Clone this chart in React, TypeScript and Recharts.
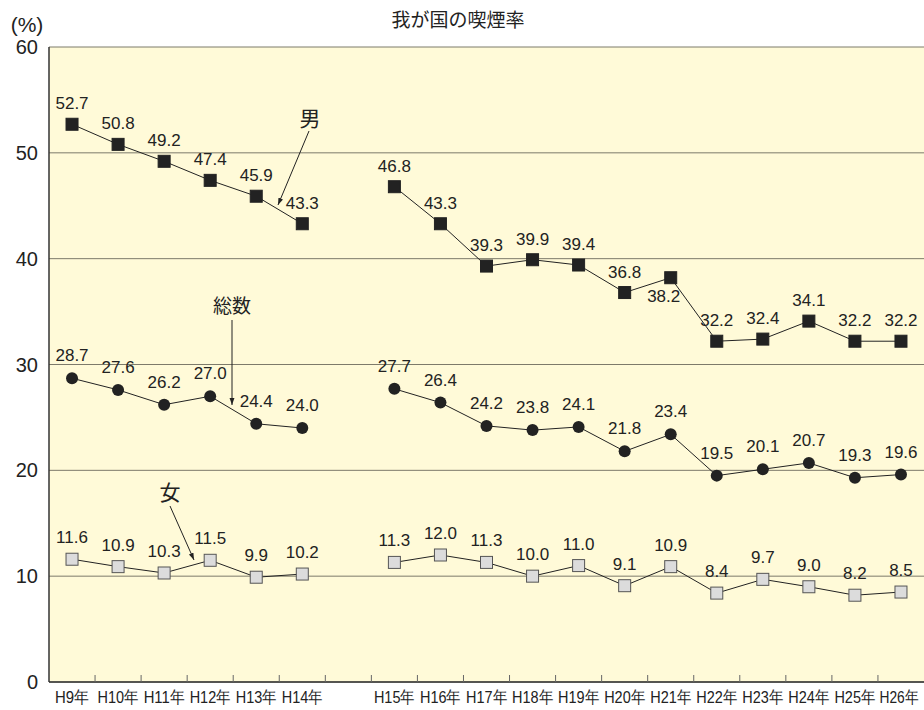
import { LineChart, Line, XAxis, YAxis, CartesianGrid, LabelList } from "recharts";

// ================= DATA =================
const categories = [
  "H9年", "H10年", "H11年", "H12年", "H13年", "H14年", "",
  "H15年", "H16年", "H17年", "H18年", "H19年", "H20年", "H21年",
  "H22年", "H23年", "H24年", "H25年", "H26年",
];
const male = [52.7, 50.8, 49.2, 47.4, 45.9, 43.3, null, 46.8, 43.3, 39.3, 39.9, 39.4, 36.8, 38.2, 32.2, 32.4, 34.1, 32.2, 32.2];
const total = [28.7, 27.6, 26.2, 27.0, 24.4, 24.0, null, 27.7, 26.4, 24.2, 23.8, 24.1, 21.8, 23.4, 19.5, 20.1, 20.7, 19.3, 19.6];
const female = [11.6, 10.9, 10.3, 11.5, 9.9, 10.2, null, 11.3, 12.0, 11.3, 10.0, 11.0, 9.1, 10.9, 8.4, 9.7, 9.0, 8.2, 8.5];
const yTicks = [0, 10, 20, 30, 40, 50, 60];

const data = categories.map((name, i) => ({
  name,
  x: i + 0.5,
  male: male[i],
  total: total[i],
  female: female[i],
}));

// label centers + category boundaries
const xTicks = [
  ...categories.map((c, i) => (c ? i + 0.5 : null)).filter((v) => v !== null),
  ...categories.slice(1).map((_, i) => i + 1),
];

const FONT = "'Liberation Sans', Arial, sans-serif";
const JP = "'Noto Sans CJK JP', sans-serif";
const INK = "#222";

// ================= TICKS =================
function XTick({ x, y, payload }: any) {
  const v = payload.value;
  if (Number.isInteger(v)) {
    return <line x1={x} x2={x} y1={y} y2={y - 7} stroke="#666" strokeWidth={1} />;
  }
  const idx = Math.floor(v);
  const label = categories[idx];
  const last = idx === categories.length - 1;
  // condensed like the original print font
  return (
    <text
      x={last ? x - 2 : x}
      y={y + 21}
      textAnchor="middle"
      fontSize={17}
      fill={INK}
      fontFamily={FONT}
      textLength={label.length === 3 ? 34 : last ? 39 : 41}
      lengthAdjust="spacingAndGlyphs"
    >
      {label}
    </text>
  );
}

// ================= DOTS =================
const squareDot = (fill: string, stroke: string, size: number) => (p: any) => {
  if (p.cy == null || p.value == null) return <g key={p.index} />;
  return (
    <rect
      key={p.index}
      x={p.cx - size / 2}
      y={p.cy - size / 2}
      width={size}
      height={size}
      fill={fill}
      stroke={stroke}
      strokeWidth={1}
    />
  );
};

const circleDot = (p: any) => {
  if (p.cy == null || p.value == null) return <g key={p.index} />;
  return <circle key={p.index} cx={p.cx} cy={p.cy} r={6} fill={INK} />;
};

// ================= LABELS =================
const BELOW_MALE = [13]; // H21年 label sits under the point

const makeLabel = (dy: number, below: number[] = []) => (p: any) => {
  if (p.value == null) return null;
  const isBelow = below.includes(p.index);
  return (
    <text
      x={p.x + (isBelow ? -7 : 0)}
      y={isBelow ? p.y + 24 : p.y - dy}
      textAnchor="middle"
      fontSize={17}
      fill={INK}
      fontFamily={FONT}
    >
      {Number(p.value).toFixed(1)}
    </text>
  );
};

export default function App() {
  return (
    <div style={{ position: "absolute", left: 0, top: 0, width: 924, height: 710, background: "#fff" }}>
      <LineChart
        width={924}
        height={710}
        data={data}
        margin={{ top: 47, right: 0, left: 0, bottom: 0 }}
      >
        <CartesianGrid vertical={false} stroke="#7d7a6a" fill="#FFFAD8" fillOpacity={1} />
        <XAxis
          type="number"
          dataKey="x"
          domain={[0, 19]}
          ticks={xTicks as number[]}
          interval={0}
          tickSize={0}
          tickMargin={0}
          tickLine={false}
          tick={<XTick />}
          height={28}
          axisLine={{ stroke: "#333", strokeWidth: 1.5 }}
        />
        <YAxis
          type="number"
          domain={[0, 60]}
          ticks={yTicks}
          width={49}
          tickSize={0}
          tickMargin={11}
          tickLine={false}
          axisLine={{ stroke: "#333", strokeWidth: 1.5 }}
          tick={{ fontSize: 20, fill: INK, fontFamily: FONT }}
        />
        <Line
          dataKey="male"
          stroke={INK}
          strokeWidth={1}
          dot={squareDot(INK, INK, 12)}
          activeDot={false}
          connectNulls={false}
          isAnimationActive={false}
        >
          <LabelList dataKey="male" content={makeLabel(15, BELOW_MALE)} />
        </Line>
        <Line
          dataKey="total"
          stroke={INK}
          strokeWidth={1}
          dot={circleDot}
          activeDot={false}
          connectNulls={false}
          isAnimationActive={false}
        >
          <LabelList dataKey="total" content={makeLabel(17)} />
        </Line>
        <Line
          dataKey="female"
          stroke={INK}
          strokeWidth={1}
          dot={squareDot("#dcdcdc", "#555", 12)}
          activeDot={false}
          connectNulls={false}
          isAnimationActive={false}
        >
          <LabelList dataKey="female" content={makeLabel(16)} />
        </Line>
      </LineChart>

      {/* ================= ANNOTATIONS ================= */}
      <svg
        width={924}
        height={710}
        style={{ position: "absolute", left: 0, top: 0, pointerEvents: "none" }}
      >
        <defs>
          <marker id="ah" viewBox="0 0 10 10" refX="10" refY="5" markerWidth="7" markerHeight="7" orient="auto">
            <path d="M0,1.5 L10,5 L0,8.5 z" fill={INK} />
          </marker>
        </defs>
        <text x={27} y={32} textAnchor="middle" fontSize={21} fill={INK} fontFamily={FONT}>
          (%)
        </text>
        <text x={458} y={27} textAnchor="middle" fontSize={19} fill={INK} fontFamily={JP}>
          我が国の喫煙率
        </text>

        <text x={310} y={126} textAnchor="middle" fontSize={21} fill={INK} fontFamily={JP}>男</text>
        <line x1={309} y1={131} x2={278} y2={205} stroke={INK} strokeWidth={1} markerEnd="url(#ah)" />

        <text x={232} y={313} textAnchor="middle" fontSize={19} fill={INK} fontFamily={JP}>総数</text>
        <line x1={232} y1={320} x2={232} y2={405} stroke={INK} strokeWidth={1} markerEnd="url(#ah)" />

        <text x={170} y={500} textAnchor="middle" fontSize={21} fill={INK} fontFamily={JP}>女</text>
        <line x1={170} y1={506} x2={194} y2={560} stroke={INK} strokeWidth={1} markerEnd="url(#ah)" />
      </svg>
    </div>
  );
}
